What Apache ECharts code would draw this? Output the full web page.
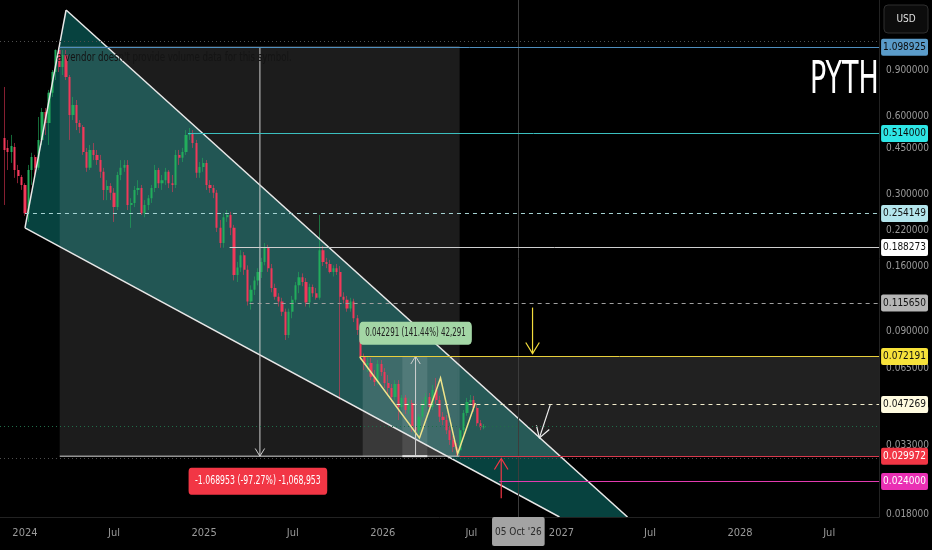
<!DOCTYPE html>
<html><head><meta charset="utf-8">
<script src="https://cdn.jsdelivr.net/npm/echarts@6/dist/echarts.min.js"></script>
<style>html,body{margin:0;padding:0;background:#000;}#c{width:932px;height:550px;}</style>
</head><body><div id="c"></div>
<script>
// ---------- DATA ----------
const firstWeek = '2023-11-20'; // weekly candles
const opens = [
0.494,0.453,0.437,0.457,0.373,0.351,0.327,0.255,0.373,0.418,
0.380,0.486,0.622,0.564,0.736,0.884,1.073,0.924,1.027,0.847,
0.605,0.661,0.564,0.545,0.437,0.380,0.445,0.426,0.407,0.367,
0.313,0.324,0.305,0.269,0.357,0.380,0.390,0.274,0.279,0.313,
0.318,0.255,0.274,0.291,0.318,0.373,0.332,0.341,0.367,0.332,
0.327,0.426,0.415,0.437,0.508,0.516,0.473,0.364,0.383,0.397,
0.327,0.318,0.305,0.224,0.196,0.246,0.251,0.224,0.148,0.158,
0.176,0.155,0.117,0.130,0.141,0.152,0.166,0.188,0.157,0.132,
0.122,0.117,0.107,0.0872,0.107,0.119,0.135,0.145,0.139,0.116,
0.133,0.126,0.121,0.184,0.166,0.163,0.152,0.157,0.152,0.122,
0.119,0.110,0.117,0.101,0.0911,0.0718,0.0669,0.0681,0.0603,0.0576,
0.0675,0.0629,0.0571,0.0546,0.0505,0.0566,0.0462,0.0501,0.0450,0.0479,
0.0387,0.0377,0.0424,0.0470,0.0505,0.0462,0.0537,0.0492,0.0424,0.0412,
0.0377,0.0346,0.0325,0.0316,0.0377,0.0438,0.0483,0.0492,0.0458,0.0401,
0.0387];
const highs = [
0.775,0.486,0.508,0.473,0.390,0.357,0.332,0.390,0.434,0.426,
0.595,0.644,0.644,0.755,0.900,1.080,1.099,1.073,1.073,0.861,
0.710,0.691,0.579,0.554,0.453,0.465,0.473,0.445,0.426,0.380,
0.341,0.332,0.318,0.367,0.407,0.407,0.407,0.291,0.324,0.341,
0.327,0.286,0.299,0.327,0.390,0.380,0.357,0.380,0.373,0.357,
0.445,0.445,0.453,0.530,0.540,0.530,0.486,0.400,0.415,0.407,
0.341,0.327,0.313,0.240,0.255,0.262,0.258,0.230,0.166,0.184,
0.181,0.161,0.135,0.146,0.157,0.172,0.196,0.193,0.163,0.137,
0.126,0.121,0.110,0.110,0.123,0.139,0.152,0.150,0.144,0.137,
0.136,0.132,0.251,0.191,0.172,0.169,0.161,0.163,0.160,0.127,
0.123,0.121,0.120,0.104,0.0929,0.0740,0.0718,0.0712,0.0640,0.0699,
0.0699,0.0651,0.0613,0.0566,0.0586,0.0586,0.0514,0.0514,0.0501,0.0492,
0.0412,0.0435,0.0492,0.0523,0.0523,0.0561,0.0597,0.0510,0.0442,0.0431,
0.0391,0.0358,0.0337,0.0384,0.0450,0.0501,0.0514,0.0510,0.0470,0.0412,
0.0398];
const lows = [
0.274,0.373,0.397,0.348,0.332,0.313,0.249,0.236,0.327,0.357,
0.373,0.465,0.508,0.465,0.710,0.824,0.884,0.861,0.824,0.486,
0.579,0.530,0.516,0.426,0.367,0.373,0.407,0.390,0.348,0.286,
0.286,0.286,0.236,0.262,0.341,0.367,0.262,0.224,0.269,0.299,
0.251,0.246,0.262,0.279,0.307,0.318,0.313,0.327,0.318,0.307,
0.318,0.390,0.400,0.426,0.486,0.453,0.348,0.348,0.367,0.313,
0.305,0.291,0.216,0.188,0.188,0.236,0.210,0.141,0.139,0.152,
0.148,0.113,0.109,0.124,0.135,0.144,0.161,0.152,0.127,0.119,
0.112,0.103,0.0834,0.0849,0.101,0.116,0.126,0.134,0.112,0.111,
0.122,0.119,0.119,0.160,0.157,0.150,0.146,0.148,0.0492,0.115,
0.107,0.107,0.0977,0.0872,0.0699,0.0640,0.0629,0.0586,0.0556,0.0561,
0.0608,0.0546,0.0514,0.0483,0.0492,0.0412,0.0450,0.0435,0.0435,0.0371,
0.0352,0.0364,0.0412,0.0458,0.0442,0.0450,0.0474,0.0405,0.0394,0.0364,
0.0331,0.0311,0.02997,0.0306,0.0364,0.0428,0.0470,0.0442,0.0391,0.0377,
0.0380];
const closes = [
0.445,0.437,0.461,0.373,0.354,0.327,0.255,0.373,0.418,0.380,
0.486,0.622,0.564,0.736,0.884,1.073,0.924,1.027,0.847,0.605,
0.661,0.564,0.545,0.437,0.380,0.445,0.426,0.407,0.367,0.313,
0.324,0.305,0.269,0.357,0.380,0.390,0.274,0.279,0.313,0.318,
0.255,0.274,0.291,0.318,0.373,0.332,0.341,0.367,0.332,0.327,
0.426,0.415,0.437,0.508,0.516,0.473,0.364,0.383,0.397,0.327,
0.318,0.305,0.224,0.196,0.246,0.251,0.224,0.148,0.158,0.176,
0.155,0.117,0.130,0.141,0.152,0.166,0.188,0.157,0.132,0.122,
0.117,0.107,0.0872,0.107,0.119,0.135,0.145,0.139,0.116,0.133,
0.126,0.121,0.184,0.166,0.163,0.152,0.157,0.152,0.122,0.119,
0.110,0.117,0.101,0.0911,0.0718,0.0669,0.0681,0.0603,0.0576,0.0675,
0.0629,0.0571,0.0546,0.0505,0.0566,0.0462,0.0501,0.0450,0.0479,0.0387,
0.0377,0.0424,0.0470,0.0505,0.0462,0.0537,0.0492,0.0424,0.0412,0.0377,
0.0346,0.0325,0.0316,0.0377,0.0438,0.0483,0.0492,0.0458,0.0401,0.0387,
0.0391];

const xRange = ['2023-11-11', '2028-10-11'];
const yRange = [0.01754, 1.6675];
const xTicks = ['2024-01-01','2024-07-01','2025-01-01','2025-07-01','2026-01-01','2026-07-01','2027-01-01','2027-07-01','2028-01-01','2028-07-01'];
const xTickLabels = ['2024','Jul','2025','Jul','2026','Jul','2027','Jul','2028','Jul'];
const yTicks = [0.9, 0.6, 0.45, 0.3, 0.22, 0.16, 0.09, 0.065, 0.045, 0.033, 0.018];

// horizontal levels: price and start date
const levelPrices = [1.098925, 0.514, 0.254149, 0.188273, 0.11565, 0.072191, 0.047269, 0.029972, 0.024];
const levelStarts = ['2024-03-12','2024-11-29','2024-01-01','2025-02-22','2025-04-04','2025-11-15','2026-01-29','2026-06-07','2026-08-27'];
const dottedPrices = [1.162, 0.0294];
const lastPrice = 0.0391;
const crosshairDate = '2026-10-05';
const crosshairText = "05 Oct '26";

// falling wedge (top, bottom-right upper, bottom-right lower, left)
const wedge = [['2024-03-25', 1.526], ['2027-05-16', 0.01754], ['2026-12-28', 0.01754], ['2024-01-01', 0.224]];
// W pattern
const zigzag = [['2025-11-15', 0.0718], ['2026-03-17', 0.0352], ['2026-04-29', 0.0597], ['2026-06-03', 0.0306], ['2026-07-09', 0.0479]];
// price range measurements
const range1Dates = ['2024-03-12', '2026-06-07'], range1Prices = [1.098925, 0.029972], range1ArrowDate = '2025-04-25';
const range1Text = '-1.068953 (-97.27%) -1,068,953';
const range2Dates = ['2025-11-21', '2026-06-03'], range2Stripe = ['2026-02-10', '2026-04-02'], range2Prices = [0.072263, 0.029972], range2ArrowDate = '2026-03-09';
const range2Text = '0.042291 (141.44%) 42,291';
const zoneDates = ['2026-06-03', '2028-10-11'], zonePrices = [0.072191, 0.029972];
// arrows [from, to]
const yellowArrow = [['2026-11-03', 0.111], ['2026-11-03', 0.0740]];
const whiteArrow = [['2026-12-09', 0.0470], ['2026-11-17', 0.0352]];
const redArrow = [['2026-08-31', 0.0207], ['2026-08-31', 0.0294]];

// ---------- STYLE ----------
const NARROW = "'Liberation Sans Narrow','DejaVu Sans Condensed',sans-serif";
const upColor = '#22ad5c', downColor = '#f2385a';
const upWick = 'rgba(34,173,92,0.6)', downWick = 'rgba(242,56,90,0.55)';
const levelLine = ['#4f8fbf','#3bbfbf','#a6d3d3','#cfcfcf','#a0a0a0','#e9cf3c','#f2eccb','#d83a4e','#e23bb0'];
const levelDash = ['solid','solid',[4,4],'solid',[4,4],'solid',[4,4],'solid','solid'];
const levelBg = ['#5a9bc9','#2ee6e6','#b3e5ec','#ffffff','#b5b5b5','#f7e23a','#fffbe0','#f23645','#ea2fb4'];
const levelFg = ['#0b0b0b','#0b0b0b','#111','#111','#111','#111','#111','#ffffff','#ffffff'];

const t = s => Date.parse(s + 'T00:00:00Z');
const week0 = t(firstWeek);
const candleData = closes.map((c, i) => [week0 + i * 7 * 864e5, opens[i], c, lows[i], highs[i]]);

function arrowEls(a, b, color, w, head) {
  const ang = Math.atan2(b[1] - a[1], b[0] - a[0]);
  const h1 = [b[0] - head * Math.cos(ang - 0.55), b[1] - head * Math.sin(ang - 0.55)];
  const h2 = [b[0] - head * Math.cos(ang + 0.55), b[1] - head * Math.sin(ang + 0.55)];
  return [
    {type: 'line', shape: {x1: a[0], y1: a[1], x2: b[0], y2: b[1]}, style: {stroke: color, lineWidth: w, fill: 'none'}},
    {type: 'polyline', shape: {points: [h1, b, h2]}, style: {stroke: color, lineWidth: w, fill: 'none'}}
  ];
}
function rectEl(api, d1, d2, p1, p2, fill) {
  const a = api.coord([t(d1), p1]), b = api.coord([t(d2), p2]);
  return {type: 'rect', shape: {x: Math.min(a[0], b[0]), y: Math.min(a[1], b[1]), width: Math.abs(b[0] - a[0]), height: Math.abs(b[1] - a[1])}, style: {fill}};
}

function renderShapes(params, api) {
  const C = (d, p) => api.coord([t(d), p]);
  const ch = [];
  ch.push({type: 'polygon', shape: {points: wedge.map(w => C(w[0], w[1]))}, style: {fill: 'rgba(7,70,66,0.95)'}});
  ch.push(rectEl(api, range1Dates[0], range1Dates[1], range1Prices[0], range1Prices[1], 'rgba(255,255,255,0.11)'));
  ch.push(rectEl(api, zoneDates[0], zoneDates[1], zonePrices[0], zonePrices[1], 'rgba(255,255,255,0.13)'));
  ch.push(rectEl(api, range2Dates[0], range2Dates[1], range2Prices[0], range2Prices[1], 'rgba(255,255,255,0.13)'));
  ch.push(rectEl(api, range2Stripe[0], range2Stripe[1], range2Prices[0], range2Prices[1], 'rgba(255,255,255,0.10)'));
  return {type: 'group', children: ch};
}

function renderDrawings(params, api) {
  const C = (d, p) => api.coord([t(d), p]);
  const ch = [];
  const L = (a, b, color, w) => ({type: 'line', shape: {x1: a[0], y1: a[1], x2: b[0], y2: b[1]}, style: {stroke: color, lineWidth: w, fill: 'none'}});
  const A = C(...wedge[0]), B = C(...wedge[1]), Cc = C(...wedge[2]), D = C(...wedge[3]);
  ch.push(L(A, B, '#e8e8e8', 1.5), L(D, Cc, '#e8e8e8', 1.5), L(D, A, '#e8e8e8', 1.5));
  ch.push(L(C(range1Dates[0], range1Prices[0]), C(range1Dates[1], range1Prices[0]), '#d8d8d8', 1));
  ch.push(L(C(range1Dates[0], range1Prices[1]), C(range1Dates[1], range1Prices[1]), '#d8d8d8', 1));
  ch.push(...arrowEls(C(range1ArrowDate, range1Prices[0]), C(range1ArrowDate, range1Prices[1]), '#cfcfcf', 1, 9));
  ch.push(L(C(range2Stripe[0], range2Prices[1]), C(range2Stripe[1], range2Prices[1]), '#e0e0e0', 2));
  ch.push(...arrowEls(C(range2ArrowDate, range2Prices[1]), C(range2ArrowDate, range2Prices[0]), '#d0d0d0', 1, 9));
  ch.push({type: 'polyline', shape: {points: zigzag.map(z => C(z[0], z[1]))}, style: {stroke: '#efe48a', lineWidth: 1.5, fill: 'none'}});
  ch.push(...arrowEls(C(...yellowArrow[0]), C(...yellowArrow[1]), '#f3dc3c', 1.2, 13));
  ch.push(...arrowEls(C(...whiteArrow[0]), C(...whiteArrow[1]), '#eeeeee', 1.2, 13));
  ch.push(...arrowEls(C(...redArrow[0]), C(...redArrow[1]), '#f23645', 1.2, 13));
  const p1 = C(range1ArrowDate, range1Prices[1]);
  ch.push({type: 'text', x: p1[0] - 2, y: p1[1] + 25, scaleX: 0.72, originX: 0, originY: 0,
    style: {text: range1Text, fill: '#ffffff', fontSize: 12, fontFamily: NARROW, align: 'center', verticalAlign: 'middle', backgroundColor: '#f23645', padding: [8, 9, 7, 9], borderRadius: 4}});
  const p2 = C(range2ArrowDate, range2Prices[0]);
  ch.push({type: 'text', x: p2[0], y: p2[1] - 23, scaleX: 0.66, originX: 0, originY: 0,
    style: {text: range2Text, fill: '#222', fontSize: 12, fontFamily: NARROW, align: 'center', verticalAlign: 'middle', backgroundColor: '#a3d6a5', padding: [6, 9, 5, 9], borderRadius: 5}});
  return {type: 'group', children: ch};
}

const xMaxT = t(xRange[1]);
const levelMarks = levelPrices.map((p, i) => [
  {coord: [t(levelStarts[i]), p], lineStyle: {color: levelLine[i], width: 1, type: levelDash[i]},
   label: {show: true, position: 'end', distance: 2, formatter: p.toFixed(6), color: levelFg[i], backgroundColor: levelBg[i],
           padding: [4, 2, 3, 2], borderRadius: 2, fontSize: 10, fontFamily: NARROW}},
  {coord: [xMaxT, p]}
]);
const dottedMarks = dottedPrices.map(p => [
  {coord: [t(xRange[0]), p], lineStyle: {color: '#4e4e4e', width: 1, type: [1, 3]}, label: {show: false}},
  {coord: [xMaxT, p]}
]);
const lastMark = [
  {coord: [t(xRange[0]), lastPrice], lineStyle: {color: '#1f6e49', width: 1, type: [1, 3]}, label: {show: false}},
  {coord: [xMaxT, lastPrice]}
];
const xLabelMarks = xTicks.map((d, i) => ({xAxis: t(d), lineStyle: {color: 'rgba(0,0,0,0)', width: 1},
  label: {show: true, position: 'start', distance: 11, formatter: xTickLabels[i], color: '#9a9a9a', fontSize: 11, fontFamily: NARROW}}));
const crossMark = {xAxis: t(crosshairDate), lineStyle: {color: '#3c3c3c', width: 1, type: 'solid'},
  label: {show: true, position: 'start', distance: 0, formatter: crosshairText, color: '#2a2a2a', backgroundColor: '#a3a3a3',
          padding: [10, 3, 9, 3], borderRadius: 2, fontSize: 10, fontFamily: NARROW}};

const chart = echarts.init(document.getElementById('c'));
chart.setOption({
  backgroundColor: '#000000',
  animation: false,
  grid: {left: 0, right: 52, top: 0, bottom: 33},
  xAxis: {
    type: 'time', min: t(xRange[0]), max: t(xRange[1]),
    axisLine: {show: true, lineStyle: {color: '#222'}}, axisTick: {show: false}, splitLine: {show: false},
    axisLabel: {show: false}
  },
  yAxis: {
    type: 'log', position: 'right', min: yRange[0], max: yRange[1],
    axisLine: {show: true, lineStyle: {color: '#222'}}, axisTick: {show: false}, splitLine: {show: false},
    axisLabel: {customValues: yTicks, hideOverlap: false, color: '#9a9a9a', fontSize: 10, fontFamily: NARROW, margin: 7,
      formatter: v => Number(v).toFixed(6)}
  },
  graphic: [
    {type: 'text', z: 100, x: 810, y: 60, scaleX: 0.68, originX: 0, originY: 0,
     style: {text: 'PYTH', fill: '#ffffff', fontSize: 44, fontFamily: NARROW, align: 'left', verticalAlign: 'top'}},
    {type: 'text', z: 100, x: 57, y: 58, scaleX: 0.80, originX: 0, originY: 0,
     style: {text: "a vendor doesn't provide volume data for this symbol.", fill: '#141414', fontSize: 12, fontFamily: NARROW, align: 'left', verticalAlign: 'middle'}},
    {type: 'rect', z: 100, shape: {x: 884, y: 5, width: 44, height: 28, r: 4}, style: {fill: '#0c0c0c', stroke: '#2e2e2e', lineWidth: 1}},
    {type: 'text', z: 101, x: 906, y: 19, style: {text: 'USD', fill: '#e0e0e0', fontSize: 10, fontFamily: NARROW, align: 'center', verticalAlign: 'middle'}}
  ],
  series: [
    {type: 'custom', name: 'shapes', z: 1, silent: true, clip: true, data: [[t('2024-01-01'), 0.1]], encode: {x: 0, y: 1}, renderItem: renderShapes},
    {type: 'candlestick', name: 'wicks', z: 2, silent: true, barWidth: 0.1,
     dimensions: ['date', 'open', 'close', 'lowest', 'highest'], encode: {x: 'date', y: ['open', 'close', 'lowest', 'highest']},
     data: candleData, itemStyle: {color: upWick, color0: downWick, borderColor: upWick, borderColor0: downWick, borderWidth: 1}},
    {type: 'candlestick', name: 'PYTH', z: 3, silent: true, barWidth: 2.7,
     dimensions: ['date', 'open', 'close', 'lowest', 'highest'], encode: {x: 'date', y: ['open', 'close', 'lowest', 'highest']},
     data: candleData, itemStyle: {color: upColor, color0: downColor, borderColor: upColor, borderColor0: downColor, borderWidth: 0},
     markLine: {silent: true, symbol: ['none', 'none'], animation: false,
       data: [...dottedMarks, lastMark, ...xLabelMarks, crossMark, ...levelMarks]}},
    {type: 'custom', name: 'drawings', z: 4, silent: true, clip: true, data: [[t('2024-01-01'), 0.1]], encode: {x: 0, y: 1}, renderItem: renderDrawings}
  ]
});
</script>
</body></html>
